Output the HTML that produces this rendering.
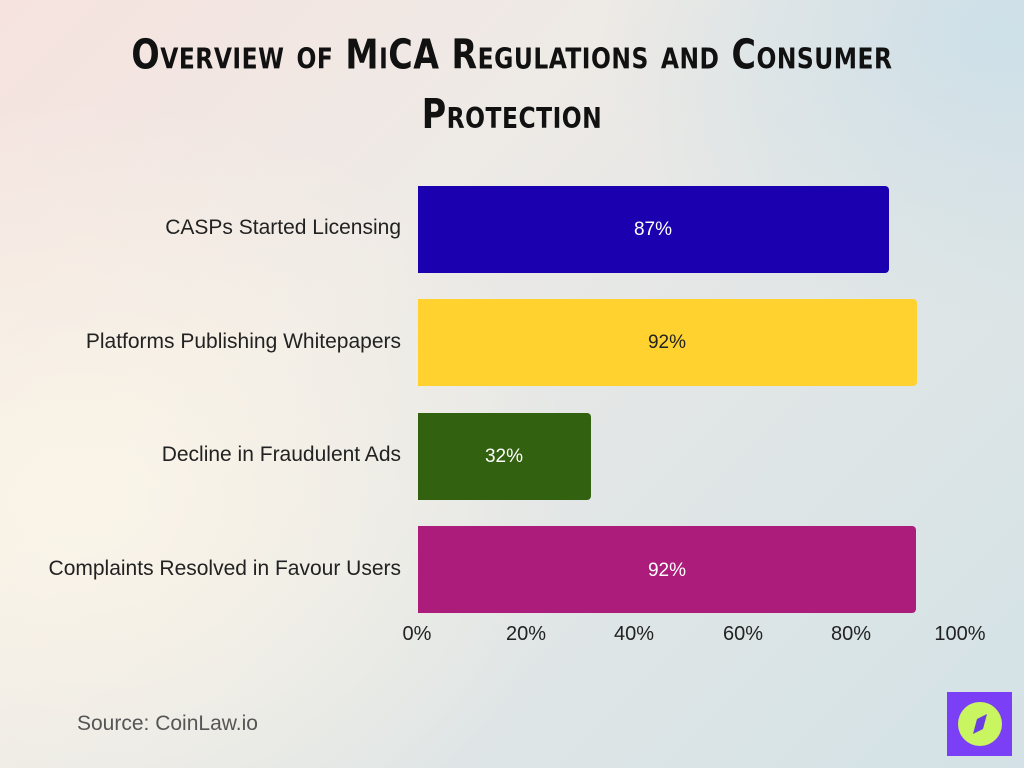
<!DOCTYPE html>
<html><head><meta charset="utf-8"><style>
html,body{margin:0;padding:0}
body{width:1024px;height:768px;position:relative;overflow:hidden;font-family:"Liberation Sans",sans-serif;
background:linear-gradient(135deg,#f6e3df 0%,#eeeae6 35%,#e2e6e6 60%,#d3e2e6 100%);}
.bg2{position:absolute;inset:0;background:radial-gradient(ellipse 500px 400px at 80px 500px,rgba(252,246,232,0.9),rgba(252,246,232,0));}
.bg3{position:absolute;inset:0;background:radial-gradient(ellipse 400px 300px at 1000px 30px,rgba(200,222,232,0.8),rgba(200,222,232,0));}
.title{position:absolute;left:0;width:1024px;text-align:center;font-family:"DejaVu Sans Condensed","DejaVu Sans",sans-serif;font-weight:bold;font-variant:small-caps;font-size:37px;color:#111;letter-spacing:0.5px;line-height:54px;top:31px;transform:scaleY(1.1)}
.lab{position:absolute;right:623px;font-size:21px;color:#222;text-align:right;white-space:nowrap;line-height:24px}
.bar{position:absolute;left:418px;height:87px;border-radius:0 4px 4px 0}
.val{position:absolute;font-size:19px;line-height:24px;text-align:center;width:80px}
.tick{position:absolute;top:622px;font-size:20px;color:#222;width:80px;text-align:center;line-height:24px}
</style></head><body>
<div class="bg2"></div><div class="bg3"></div>
<div class="title">Overview of MiCA Regulations and Consumer<br>Protection</div>

<div class="lab" style="top:216px">CASPs Started Licensing</div>
<div class="lab" style="top:330px">Platforms Publishing Whitepapers</div>
<div class="lab" style="top:443px">Decline in Fraudulent Ads</div>
<div class="lab" style="top:557px">Complaints Resolved in Favour Users</div>

<div class="bar" style="top:186px;width:471px;background:#1b00b0"></div>
<div class="bar" style="top:299px;width:499px;background:#ffd22f"></div>
<div class="bar" style="top:413px;width:173px;background:#32620f"></div>
<div class="bar" style="top:526px;width:498px;background:#ab1c7b"></div>

<div class="val" style="top:218px;left:613px;color:#fff">87%</div>
<div class="val" style="top:331px;left:627px;color:#222">92%</div>
<div class="val" style="top:445px;left:464px;color:#fff">32%</div>
<div class="val" style="top:559px;left:627px;color:#fff">92%</div>

<div class="tick" style="left:377px">0%</div>
<div class="tick" style="left:486px">20%</div>
<div class="tick" style="left:594px">40%</div>
<div class="tick" style="left:703px">60%</div>
<div class="tick" style="left:811px">80%</div>
<div class="tick" style="left:920px">100%</div>

<div style="position:absolute;left:77px;top:712px;font-size:21px;color:#555;line-height:24px">Source: CoinLaw.io</div>

<div style="position:absolute;left:947px;top:692px;width:65px;height:64px;background:#7b3ff5"></div>
<div style="position:absolute;left:958px;top:702px;width:44px;height:44px;border-radius:50%;background:#c8f560"></div>
<svg style="position:absolute;left:958px;top:702px" width="44" height="44" viewBox="0 0 44 44"><polygon points="29,12 25,27 15,32 19,17" fill="#6a3ee0"/></svg>
</body></html>
